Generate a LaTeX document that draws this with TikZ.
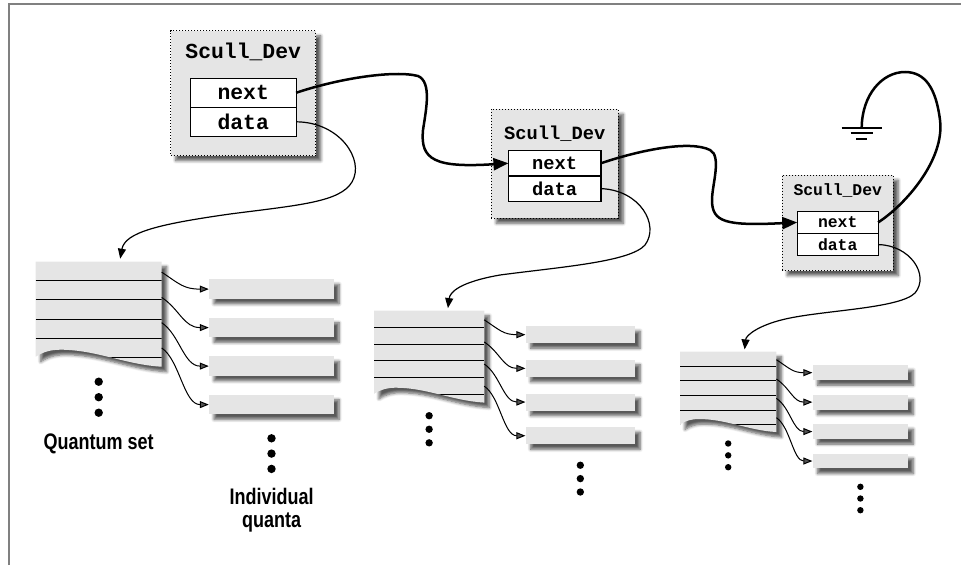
\documentclass[tikz,border=0pt]{standalone}
\usepackage{fontspec}
\setmainfont{Liberation Sans}
\setmonofont{Liberation Mono}
\newfontfamily\narrowfont[FakeStretch=0.8]{Liberation Sans}
\usetikzlibrary{arrows.meta,positioning,shadows.blur}

\newcommand*{\rowPitch}{19.1}
\newcommand*{\quantX}{235.8}
\newcommand*{\quantPitch}{38.5}
\newcommand*{\paperPath}{(0,0) -- (126,0) -- (126,105) .. controls (90,103) and (60,88) .. (25,88) .. controls (15,88) and (8,90) .. (0,95) -- cycle}

\tikzset{
  softshadow/.style={blur shadow={shadow xshift=5pt, shadow yshift=-5pt, shadow blur radius=3pt, shadow blur steps=6, shadow opacity=65}},
  devbox/.style={draw, dotted, line width=1pt, fill=gray!20, softshadow, inner sep=0pt, minimum width=#1*145pt, minimum height=#1*124.7pt},
  devtext/.style={font=\ttfamily\bfseries\fontsize{#1}{#1}\selectfont},
  cell/.style={draw, line width=1.1pt, fill=white, inner sep=0pt, outer sep=0pt, minimum width=#1*105.7pt, minimum height=#1*29pt},
  quantum/.style={fill=gray!20, softshadow, inner sep=0pt, minimum width=#1*125pt, minimum height=#1*19.5pt},
  nextlink/.style={line width=2.5pt, -{Triangle[length=15pt,width=12pt]}},
  datalink/.style={line width=1.2pt, -{Triangle[length=10pt,width=8pt]}},
  quantlink/.style={line width=1pt, -{Triangle[length=9pt,width=7pt]}},
  caption/.style={font={\narrowfont\bfseries\fontsize{22.5}{22.5}\selectfont}, inner sep=0pt, align=center}
}

\begin{document}
\begin{tikzpicture}[x=1pt, y=-1pt]
  \useasboundingbox (0,0) rectangle (961,565);
  \draw[black!50, line width=2pt] (9,565) -- (9,4) -- (961,4);

  \foreach \n/\cx/\cy/\s/\ty in {1/243.2/93.3/1/58.3, 2/554.7/163.7/0.875/139.3, 3/837.7/222.8/0.765/195} {
    \pgfmathsetmacro\fs{21.4*\s}
    \node[devbox=\s] (dev\n) at (\cx,\cy) {};
    \node[devtext=\fs, anchor=base, inner sep=0pt] (title\n) at (\cx,\ty) {Scull\_Dev};
    \node[cell=\s, devtext=\fs] (next\n) at (\cx,{\cy-0.5*\s}) {next};
    \node[cell=\s, devtext=\fs, below=0pt of next\n] (data\n) {data};
  }

  \foreach \n/\L/\T/\s in {1/35.7/261.7/1, 2/374/310.7/0.875, 3/680/351.7/0.765} {
    \begin{scope}[shift={(\L,\T)}, scale=\s]
      \fill[gray!20, softshadow] \paperPath;
      \begin{scope}
        \clip \paperPath;
        \foreach \k in {1,...,5}
          \draw[line width=1pt] (0,{\k*\rowPitch}) -- (126,{\k*\rowPitch});
      \end{scope}
      \coordinate (in\n) at (84.5,-3);
      \foreach \k in {1,...,4} {
        \coordinate (r\n\k) at (126,{(0.55+1.33*(\k-1))*19});
        \node[quantum=\s] (q\n\k) at (\quantX,{27.4+\quantPitch*(\k-1)}) {};
        \draw[quantlink] (r\n\k) .. controls +(18,12) and +(-25,0) .. (q\n\k.west);
      }
      \foreach \k in {0,1,2} {
        \fill (63,{120+15.5*\k}) circle[radius=4.2pt];
        \fill (\quantX,{176.6+15.3*\k}) circle[radius=4.2pt];
      }
    \end{scope}
  }

  \node[caption, anchor=base] (setlabel) at (98.7,449) {Quantum set};
  \node[caption, anchor=north] (quantalabel) at (271.7,488) {Individual\\quanta};

  \coordinate (gnd) at (861.7,127.7);
  \draw[line width=2pt] (gnd) ++(-20,0) -- ++(40,0) (gnd) ++(-11,5.6) -- ++(22,0) (gnd) ++(-5.5,11.3) -- ++(11,0);

  \draw[nextlink] (next1.east) .. controls (340,78) and (395,70) .. (418,76) .. controls (432,82) and (426,110) .. (423,130) .. controls (420,160) and (435,168) .. (next2.west);
  \draw[nextlink] (next2.east) .. controls (640,150) and (690,140) .. (710,150) .. controls (722,156) and (712,185) .. (712,200) .. controls (712,222) and (725,226) .. (next3.west);
  \draw[line width=2.5pt] (next3.east) .. controls (905,205) and (945,160) .. (940,120) .. controls (936,88) and (925,72) .. (905,72) .. controls (882,72) and (862,95) .. (gnd);

  \draw[datalink] (data1.east) .. controls (340,122) and (365,160) .. (352,182) .. controls (340,202) and (300,205) .. (230,214) .. controls (160,224) and (125,232) .. (in1);
  \draw[datalink] (data2.east) .. controls (640,190) and (660,225) .. (645,245) .. controls (630,262) and (560,267) .. (500,275) .. controls (460,282) and (450,292) .. (in2);
  \draw[datalink] (data3.east) .. controls (910,245) and (930,275) .. (915,293) .. controls (900,308) and (830,310) .. (790,318) .. controls (760,324) and (746,335) .. (in3);
\end{tikzpicture}
\end{document}
